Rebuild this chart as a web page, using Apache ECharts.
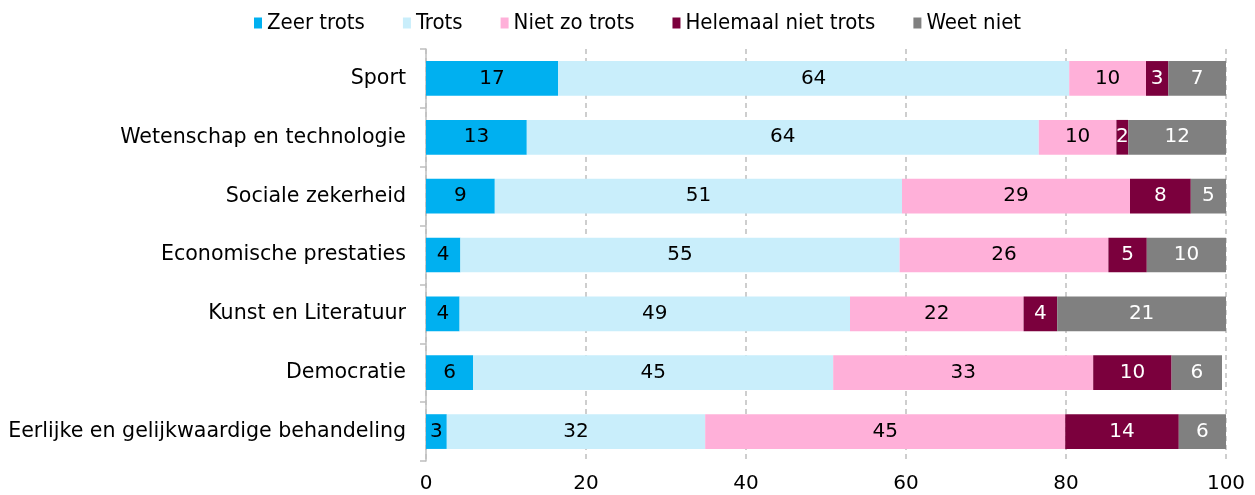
<!DOCTYPE html>
<html>
<head>
<meta charset="utf-8">
<script src="https://cdn.jsdelivr.net/npm/echarts@6/dist/echarts.min.js"></script>
<style>
  html, body { margin: 0; padding: 0; background: #fff; }
  #chart { width: 1255px; height: 495px; }
</style>
</head>
<body>
<div id="chart"></div>
<script>
var categories = ['Sport', 'Wetenschap en technologie', 'Sociale zekerheid', 'Economische prestaties',
  'Kunst en Literatuur', 'Democratie', 'Eerlijke en gelijkwaardige behandeling'];
var seriesNames = ['Zeer trots', 'Trots', 'Niet zo trots', 'Helemaal niet trots', 'Weet niet'];
var zeerTrots = [16.5, 12.6, 8.6, 4.3, 4.2, 5.9, 2.6];
var trots = [63.9, 64.0, 50.9, 54.9, 48.8, 45.0, 32.3];
var nietZoTrots = [9.6, 9.7, 28.5, 26.1, 21.7, 32.5, 45.0];
var helemaalNiet = [2.8, 1.5, 7.6, 4.8, 4.2, 9.8, 14.2];
var weetNiet = [7.2, 12.2, 4.5, 9.9, 21.1, 6.3, 5.9];
var xTicks = [0, 20, 40, 60, 80, 100];

var colors = ['#00B0F0', '#C9EEFB', '#FFB0D9', '#7B003D', '#808080'];
var labelColors = ['#000', '#000', '#000', '#fff', '#fff'];
var values = [zeerTrots, trots, nietZoTrots, helemaalNiet, weetNiet];
var fontFam = 'DejaVu Sans';

var series = [];
for (var i = 0; i < seriesNames.length; i++) {
  series.push({
    name: seriesNames[i],
    type: 'bar',
    stack: 'total',
    barCategoryGap: '41%',
    itemStyle: { color: colors[i] },
    label: {
      show: true,
      position: 'inside',
      color: labelColors[i],
      fontFamily: fontFam,
      fontSize: 20,
      formatter: function (p) { return Math.round(p.value); }
    },
    data: values[i]
  });
}

var option = {
  animation: false,
  textStyle: { fontFamily: fontFam },
  legend: {
    data: seriesNames,
    top: 7,
    left: 249,
    icon: 'rect',
    itemWidth: 8,
    itemHeight: 11,
    itemGap: 38,
    textStyle: { fontSize: 22, color: '#000', fontFamily: 'DejaVu Sans Condensed' }
  },
  grid: { left: 426, right: 29, top: 49, bottom: 34 },
  xAxis: {
    type: 'value',
    min: xTicks[0],
    max: xTicks[xTicks.length - 1],
    interval: 20,
    axisLine: { show: false },
    axisTick: { show: false },
    axisLabel: { fontSize: 20, color: '#000', margin: 13, fontFamily: fontFam },
    splitLine: { show: true, lineStyle: { color: '#BFBFBF', type: [5, 4], width: 1.5 } }
  },
  yAxis: {
    type: 'category',
    inverse: true,
    data: categories,
    axisLine: { show: true, lineStyle: { color: '#BFBFBF', width: 1.5 } },
    axisTick: { show: true, length: 6, lineStyle: { color: '#BFBFBF', width: 1.5 } },
    axisLabel: { fontSize: 20.6, color: '#000', margin: 20, fontFamily: fontFam }
  },
  series: series
};

var mychart = echarts.init(document.getElementById('chart'));
mychart.setOption(option);
</script>
</body>
</html>
